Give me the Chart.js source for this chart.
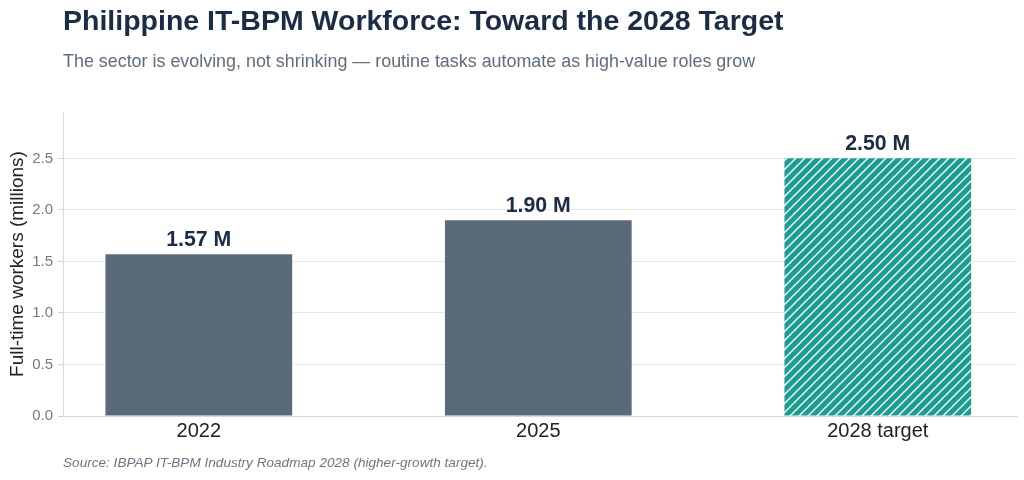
<!DOCTYPE html>
<html>
<head>
<meta charset="utf-8">
<script src="https://cdn.jsdelivr.net/npm/chart.js@4"></script>
<style>
  html, body { margin: 0; padding: 0; background: #fff; }
  body { width: 1024px; height: 480px; position: relative; overflow: hidden; font-family: "Liberation Sans", Arial, sans-serif; }
  #title { position: absolute; left: 63px; top: 4px; font-size: 28.5px; font-weight: bold; color: #1b2c45; white-space: nowrap; }
  #subtitle { position: absolute; left: 63px; top: 51px; font-size: 17.9px; color: #5f6d7c; white-space: nowrap; }
  #source { position: absolute; left: 63px; top: 455px; font-size: 13.6px; font-style: italic; color: #6b7785; white-space: nowrap; }
  #wrap { position: absolute; left: 0; top: 0; width: 1024px; height: 480px; }
</style>
</head>
<body>
<div id="wrap"><canvas id="chart" width="1024" height="480"></canvas></div>
<div id="title">Philippine IT-BPM Workforce: Toward the 2028 Target</div>
<div id="subtitle">The sector is evolving, not shrinking — routine tasks automate as high-value roles grow</div>
<div id="source">Source: IBPAP IT-BPM Industry Roadmap 2028 (higher-growth target).</div>
<script>
// chart data
const categories = ['2022', '2025', '2028 target'];
const workers = [1.57, 1.90, 2.50];
const yTicks = [0, 0.5, 1.0, 1.5, 2.0, 2.5];

const GRAY = '#5b6a7a';
const TEAL = '#1a9e8f';

// white diagonal hatch on teal for the target bar
function hatchPattern() {
    const size = 9;
    const c = document.createElement('canvas');
    c.width = size; c.height = size;
    const g = c.getContext('2d');
    g.fillStyle = TEAL;
    g.fillRect(0, 0, size, size);
    g.strokeStyle = '#ffffff';
    g.lineWidth = 1.4;
    g.beginPath();
    g.moveTo(-1, size + 1); g.lineTo(size + 1, -1);
    g.moveTo(-1, 1); g.lineTo(1, -1);
    g.moveTo(size - 1, size + 1); g.lineTo(size + 1, size - 1);
    g.stroke();
    return g.createPattern(c, 'repeat');
}

const valueLabels = {
    id: 'valueLabels',
    afterDatasetsDraw(chart) {
        const ctx = chart.ctx;
        const meta = chart.getDatasetMeta(0);
        ctx.save();
        ctx.font = 'bold 21.3px "Liberation Sans", Arial, sans-serif';
        ctx.fillStyle = '#1b2c45';
        ctx.textAlign = 'center';
        ctx.textBaseline = 'alphabetic';
        meta.data.forEach((bar, i) => {
            ctx.fillText(workers[i].toFixed(2) + ' M', bar.x, bar.y - 8);
        });
        ctx.restore();
    }
};

new Chart(document.getElementById('chart'), {
    type: 'bar',
    data: {
        datasets: [{
            data: workers.map((v, i) => ({ x: i, y: v })),
            backgroundColor: [GRAY, GRAY, hatchPattern()],
            borderWidth: 0,
            barPercentage: 0.55,
            categoryPercentage: 1
        }]
    },
    options: {
        responsive: false,
        animation: false,
        devicePixelRatio: 1,
        layout: { padding: { left: 0, top: 112, right: 7, bottom: 0 } },
        plugins: { legend: { display: false }, tooltip: { enabled: false } },
        scales: {
            x: {
                type: 'linear',
                offset: false,
                min: -0.4,
                max: 2.41,
                afterFit: s => { s.height = 64; },
                afterBuildTicks: s => { s.ticks = categories.map((_, i) => ({ value: i })); },
                grid: { display: false, drawTicks: false, offset: false },
                border: { display: true, color: '#d3d9e0', width: 1 },
                ticks: {
                    padding: 3,
                    color: '#222222',
                    font: { family: '"Liberation Sans", Arial, sans-serif', size: 20 },
                    callback: v => categories[v]
                }
            },
            y: {
                min: 0,
                max: 2.95,
                afterFit: s => { s.width = 63; },
                afterBuildTicks: s => { s.ticks = yTicks.map(v => ({ value: v })); },
                grid: { color: '#e6e9ee', lineWidth: 1, tickLength: 5, tickColor: '#c9d0d8' },
                border: { display: true, color: '#d3d9e0', width: 1 },
                title: {
                    display: true,
                    text: 'Full-time workers (millions)',
                    color: '#222222',
                    padding: { top: 6, bottom: 2 },
                    font: { family: '"Liberation Sans", Arial, sans-serif', size: 19 }
                },
                ticks: {
                    padding: 5,
                    color: '#6f7b89',
                    font: { family: '"Liberation Sans", Arial, sans-serif', size: 15 },
                    callback: v => v.toFixed(1)
                }
            }
        }
    },
    plugins: [valueLabels]
});
</script>
</body>
</html>
